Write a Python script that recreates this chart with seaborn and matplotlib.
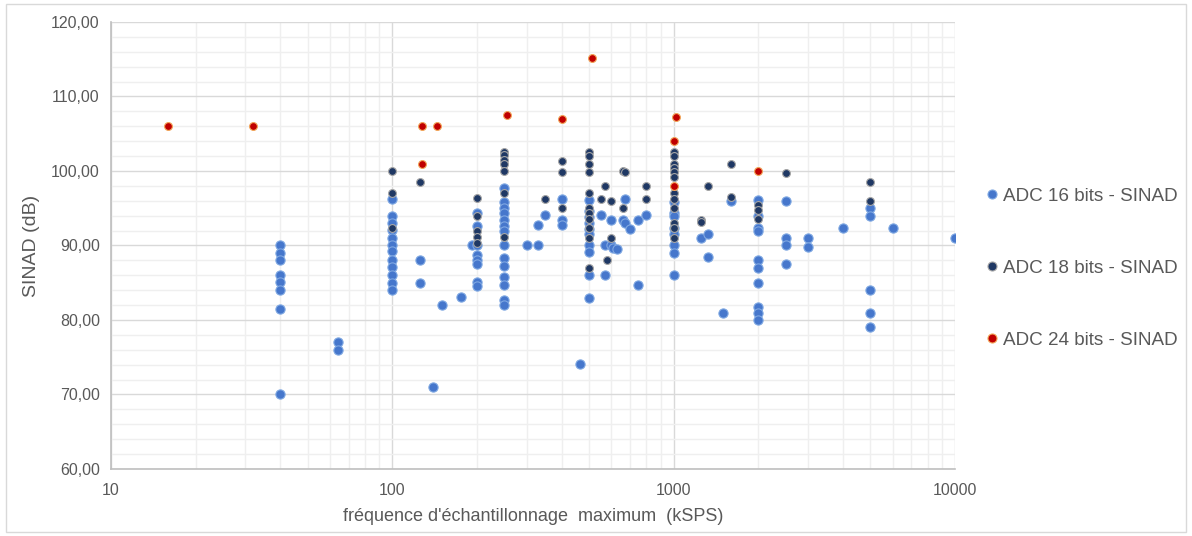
import matplotlib
matplotlib.use("Agg")
import matplotlib.pyplot as plt
import matplotlib.ticker as mticker
from matplotlib.lines import Line2D
from matplotlib.patches import Rectangle
import seaborn as sns
import pandas as pd

######
# data (kSPS, dB)
######
x16 = [40, 40, 40, 40, 40, 40, 40, 40,
       64, 64,
       100, 100, 100, 100, 100, 100, 100, 100, 100, 100, 100, 100,
       125, 125, 140, 150, 175, 192,
       200, 200, 200, 200, 200, 200, 200, 200,
       250, 250, 250, 250, 250, 250, 250, 250, 250, 250, 250, 250, 250, 250,
       300, 330, 330, 350, 400, 400, 400, 465,
       500, 500, 500, 500, 500, 500, 500, 500, 500, 500,
       550, 570, 570, 600, 600, 610, 630, 660, 670, 670, 700, 750, 750, 800,
       1000, 1000, 1000, 1000, 1000, 1000, 1000, 1000,
       1250, 1330, 1330, 1500, 1600,
       2000, 2000, 2000, 2000, 2000, 2000, 2000, 2000, 2000, 2000,
       2500, 2500, 2500, 2500, 3000, 3000, 4000,
       5000, 5000, 5000, 5000, 5000, 6000, 10000]
y16 = [90.0, 89.0, 88.0, 86.0, 85.1, 84.0, 81.5, 70.0,
       77.1, 76.0,
       96.2, 94.0, 93.0, 92.1, 91.0, 90.1, 89.3, 88.1, 87.1, 86.0, 85.0, 84.0,
       88.1, 85.0, 71.0, 82.0, 83.1, 90.0,
       94.4, 92.6, 90.1, 88.7, 88.1, 87.5, 85.1, 84.6,
       97.7, 95.9, 95.0, 94.3, 93.4, 92.6, 92.0, 90.0, 88.3, 87.2, 85.8, 84.7, 82.7, 82.0,
       90.0, 92.7, 90.0, 94.1, 96.3, 93.4, 92.8, 74.1,
       96.1, 94.6, 93.8, 93.0, 92.2, 91.5, 90.1, 89.1, 86.0, 83.0,
       94.1, 90.1, 86.0, 93.4, 90.1, 89.7, 89.5, 93.4, 96.3, 93.0, 92.2, 93.4, 84.7, 94.1,
       95.9, 94.3, 93.9, 92.3, 91.6, 90.1, 89.0, 86.0,
       91.0, 91.5, 88.5, 81.0, 96.0,
       96.1, 93.9, 92.4, 92.0, 88.1, 87.0, 85.0, 81.7, 81.0, 80.0,
       96.0, 91.0, 90.0, 87.5, 91.0, 89.8, 92.4,
       95.0, 93.9, 84.0, 81.0, 79.0, 92.4, 91.0]

x18 = [100, 100, 100, 125,
       200, 200, 200, 200, 200,
       250, 250, 250, 250, 250, 250, 250,
       350, 400, 400, 400,
       500, 500, 500, 500, 500, 500, 500, 500, 500, 500, 500,
       550, 570, 580, 600, 600, 660, 670, 660, 800, 800,
       1000, 1000, 1000, 1000, 1000, 1000, 1000, 1000, 1000, 1000, 1000, 1000,
       1250, 1250, 1330, 1600, 1600,
       2000, 2000, 2000, 2500, 5000, 5000]
y18 = [100.0, 97.0, 92.4, 98.5,
       96.4, 93.9, 91.9, 91.2, 90.4,
       102.6, 102.1, 101.5, 101.0, 100.0, 97.1, 91.1,
       96.2, 101.4, 99.9, 95.0,
       102.5, 102.0, 101.0, 99.8, 97.0, 95.0, 94.3, 93.5, 92.4, 91.0, 87.0,
       96.2, 98.0, 88.1, 96.0, 91.0, 100.0, 99.8, 95.0, 98.0, 96.2,
       102.5, 102.0, 101.0, 100.4, 99.8, 99.2, 97.0, 96.3, 95.0, 93.0, 92.3, 91.0,
       93.4, 93.1, 98.0, 101.0, 96.5,
       95.4, 94.8, 93.5, 99.7, 98.5, 96.0]

x24 = [16, 32, 128, 128, 144, 256, 400, 512, 1000, 1000, 1024, 2000]
y24 = [106.0, 106.0, 106.0, 101.0, 106.0, 107.5, 107.0, 115.2, 104.0, 98.0, 107.2, 100.0]

labels = ["ADC 16 bits - SINAD", "ADC 18 bits - SINAD", "ADC 24 bits - SINAD"]
fills = ["#4677CC", "#1F3864", "#C00000"]
edges = ["#7FA8E2", "#A6A6A6", "#F2A65A"]
sizes = [44, 32, 32]

series = [(x16, y16), (x18, y18), (x24, y24)]

######
# plot
######
sns.set_style("white")
plt.rcParams["font.family"] = ["Liberation Sans", "DejaVu Sans"]
grey_txt = "#595959"

fig = plt.figure(figsize=(11.92, 5.36), dpi=100)
ax = fig.add_axes([0.0931, 0.125, 0.708, 0.834])

for (xs, ys), lab, fc, ec, s in zip(series, labels, fills, edges, sizes):
    df = pd.DataFrame({"x": xs, "y": ys})
    sns.scatterplot(data=df, x="x", y="y", ax=ax, color=fc, edgecolor=ec,
                    linewidth=0.8, s=s, label=lab, zorder=3, legend=False)

ax.set_xscale("log")
ax.set_xlim(10, 10000)
ax.set_ylim(60, 120)

ax.xaxis.set_major_locator(mticker.FixedLocator([10, 100, 1000, 10000]))
ax.xaxis.set_major_formatter(mticker.FuncFormatter(lambda v, p: f"{int(v)}"))
ax.xaxis.set_minor_locator(mticker.LogLocator(base=10, subs=range(2, 10)))
ax.xaxis.set_minor_formatter(mticker.NullFormatter())
ax.yaxis.set_major_locator(mticker.MultipleLocator(10))
ax.yaxis.set_minor_locator(mticker.MultipleLocator(2))
ax.yaxis.set_major_formatter(mticker.FuncFormatter(lambda v, p: f"{v:.2f}".replace(".", ",")))

ax.grid(which="major", color="#D9D9D9", linewidth=1.0, zorder=0)
ax.grid(which="minor", color="#EFEFEF", linewidth=1.0, zorder=0)
ax.set_axisbelow(True)

for side in ["top", "right"]:
    ax.spines[side].set_visible(False)
for side in ["left", "bottom"]:
    ax.spines[side].set_color("#BFBFBF")
    ax.spines[side].set_linewidth(1.2)

ax.tick_params(which="both", length=0)
ax.tick_params(axis="y", pad=8, labelsize=11.5, labelcolor=grey_txt)
ax.tick_params(axis="x", pad=10, labelsize=11.5, labelcolor=grey_txt)

ax.set_xlabel("fréquence d'échantillonnage  maximum  (kSPS)", fontsize=13, color=grey_txt, labelpad=7)
ax.set_ylabel("SINAD (dB)", fontsize=14, color=grey_txt, labelpad=8)

handles = [Line2D([0], [0], marker="o", linestyle="", markersize=6.5,
                  markerfacecolor=fc, markeredgecolor=ec, markeredgewidth=0.8)
           for fc, ec in zip(fills, edges)]
fig.legend(handles, labels, loc="center left", bbox_to_anchor=(0.81, 0.5),
           frameon=False, fontsize=13.6, labelcolor=grey_txt, labelspacing=2.9,
           handletextpad=0.1, handlelength=1.0)

fig.patches.append(Rectangle((0.005, 0.008), 0.99, 0.984, transform=fig.transFigure,
                             fill=False, edgecolor="#D9D9D9", linewidth=1.0))

plt.savefig("out.png", dpi=100)
